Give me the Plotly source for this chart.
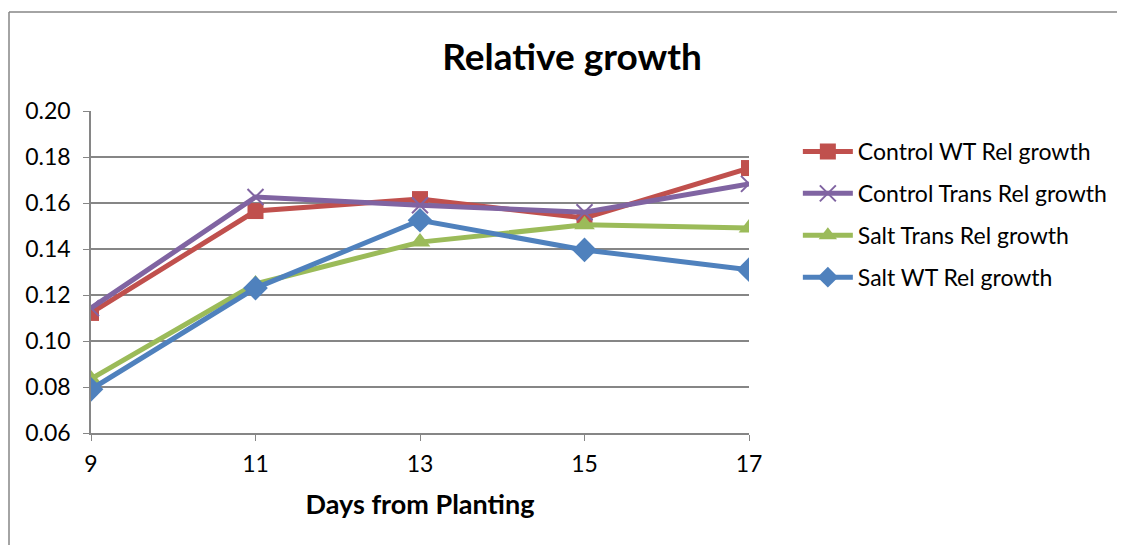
import plotly.graph_objects as go

days = [9, 11, 13, 15, 17]
control_wt = [0.1122, 0.1565, 0.1617, 0.1535, 0.1752]
control_trans = [0.1143, 0.1626, 0.1590, 0.1560, 0.1683]
salt_trans = [0.0835, 0.1248, 0.1430, 0.1505, 0.1491]
salt_wt = [0.0790, 0.1230, 0.1525, 0.1396, 0.1310]
y_ticks = [0.06, 0.08, 0.10, 0.12, 0.14, 0.16, 0.18, 0.20]

series = [
    ("Control WT Rel growth", control_wt, "#C0504D", "square", 16),
    ("Control Trans Rel growth", control_trans, "#8064A2", "x-thin", 16),
    ("Salt Trans Rel growth", salt_trans, "#9BBB59", "triangle-up", 18),
    ("Salt WT Rel growth", salt_wt, "#4F81BD", "diamond", 19),
]

fig = go.Figure()
for i, (name, vals, color, sym, size) in enumerate(series):
    marker = dict(symbol=sym, size=size, color=color)
    if sym == "x-thin":
        marker["line"] = dict(color=color, width=2)
    fig.add_trace(go.Scatter(
        x=days, y=vals, name=name, mode="lines+markers",
        line=dict(color=color, width=5), marker=marker,
        legendgroup=f"g{i}",
    ))

OFF = 8  # page body margin
W, H = 1125 - OFF, 545 - OFF
L, R, T, B = 91 - OFF, 751 - OFF, 111 - OFF, 433 - OFF
FONT = "Lato, Open Sans, sans-serif"
fig.update_layout(
    width=W, height=H,
    margin=dict(l=L, r=W - R, t=T, b=H - B),
    paper_bgcolor="white", plot_bgcolor="white",
    font=dict(family=FONT, size=23, color="black"),
    title=dict(text="<b>Relative growth</b>", x=(572 - OFF) / W, xanchor="center",
               y=1 - (57 - OFF) / H, yanchor="middle", font=dict(size=37)),
    xaxis=dict(range=[9, 17], tickvals=days, ticktext=[str(d) for d in days],
               showgrid=False, showline=True, linecolor="#868686", linewidth=1.5,
               ticks="outside", tickcolor="#868686", ticklen=6, zeroline=False,
               tickfont=dict(size=23), ticklabelstandoff=4,
               title=dict(text="<b>Days from Planting</b>", font=dict(size=27), standoff=19)),
    yaxis=dict(range=[0.06, 0.20], tickvals=y_ticks, ticktext=[f"{v:.2f}" for v in y_ticks],
               showgrid=True, gridcolor="#868686", gridwidth=1.5,
               showline=True, linecolor="#868686", linewidth=1.5,
               ticks="outside", tickcolor="#868686", ticklen=6, zeroline=False,
               tickfont=dict(size=23), ticklabelstandoff=8),
    legend=dict(x=(800 - OFF - L) / (R - L), xanchor="left", y=(B - (130 - OFF)) / (B - T),
                yanchor="top", tracegroupgap=9, font=dict(size=23), itemwidth=50,
                bgcolor="rgba(0,0,0,0)"),
    showlegend=True,
)

# outer chart border (top and left visible)
ytop = (B - (12 - OFF)) / (B - T)
xleft = (0.75 - L) / (R - L)
fig.add_shape(type="line", xref="paper", yref="paper",
              x0=xleft, x1=(W + 5 - L) / (R - L), y0=ytop, y1=ytop,
              line=dict(color="#868686", width=1.5))
fig.add_shape(type="line", xref="paper", yref="paper",
              x0=xleft, x1=xleft, y0=ytop, y1=(B - H - 5) / (B - T),
              line=dict(color="#868686", width=1.5))

fig.write_html("out.html")
